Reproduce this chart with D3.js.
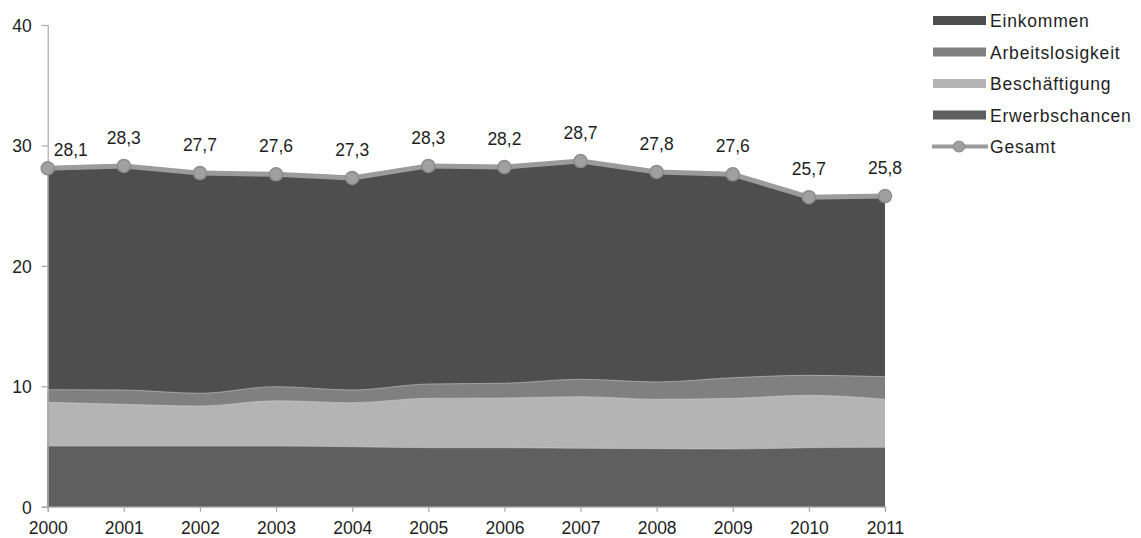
<!DOCTYPE html>
<html>
<head>
<meta charset="utf-8">
<script src="https://cdn.jsdelivr.net/npm/d3@7"></script>
<style>
  html, body { margin: 0; padding: 0; background: #fff; }
  svg { display: block; font-family: "Liberation Sans", Arial, sans-serif; }
</style>
</head>
<body>
<svg id="chart" width="1141" height="538"></svg>
<script>
// Jahre und Teilindikatoren (gestapelt), Gesamtwert als Linie
const years = [2000, 2001, 2002, 2003, 2004, 2005, 2006, 2007, 2008, 2009, 2010, 2011];
const erwerbschancen   = [5.04, 5.04, 5.04, 5.04, 4.98, 4.90, 4.90, 4.85, 4.82, 4.79, 4.90, 4.93];
const beschaeftigung   = [3.63, 3.46, 3.32, 3.76, 3.66, 4.10, 4.13, 4.29, 4.10, 4.21, 4.35, 3.99];
const arbeitslosigkeit = [1.05, 1.19, 1.06, 1.17, 1.05, 1.19, 1.22, 1.44, 1.44, 1.71, 1.66, 1.88];
const einkommen        = [18.38, 18.61, 18.28, 17.63, 17.61, 18.11, 17.95, 18.12, 17.44, 16.89, 14.79, 15.00];
const gesamt           = [28.1, 28.3, 27.7, 27.6, 27.3, 28.3, 28.2, 28.7, 27.8, 27.6, 25.7, 25.8];
const yTicks = [0, 10, 20, 30, 40];

const seriesNames = ["Erwerbschancen", "Beschäftigung", "Arbeitslosigkeit", "Einkommen"];
const seriesValues = [erwerbschancen, beschaeftigung, arbeitslosigkeit, einkommen];
const colors = {
  "Einkommen": "#4e4e4e",
  "Arbeitslosigkeit": "#808080",
  "Beschäftigung": "#b4b4b4",
  "Erwerbschancen": "#5f5f5f"
};
const legendOrder = ["Einkommen", "Arbeitslosigkeit", "Beschäftigung", "Erwerbschancen"];

const rows = years.map((y, i) => {
  const r = { year: y };
  seriesNames.forEach((n, k) => { r[n] = seriesValues[k][i]; });
  return r;
});

const svg = d3.select("#chart");
const x = d3.scaleLinear().domain([2000, 2011]).range([47.7, 885]);
const y = d3.scaleLinear().domain([0, 40]).range([506.7, 25]);
const fontSize = 17.5;

const stack = d3.stack().keys(seriesNames)(rows);

// Each layer is filled from the baseline up to its cumulative top,
// painted from the top layer down, so the boundaries stay seamless.
const smoothArea = d3.area()
  .x(d => x(d.data.year))
  .y0(y(0))
  .y1(d => y(d[1]))
  .curve(d3.curveMonotoneX);
const linearArea = d3.area()
  .x(d => x(d.data.year))
  .y0(y(0))
  .y1(d => y(d[1]))
  .curve(d3.curveLinear);
const boundary = d3.line()
  .x(d => x(d.data.year))
  .y(d => y(d[1]))
  .curve(d3.curveMonotoneX);

const layers = svg.append("g");
stack.slice().reverse().forEach(layer => {
  const isTop = layer.key === "Einkommen";
  layers.append("path")
    .attr("d", (isTop ? linearArea : smoothArea)(layer))
    .attr("fill", colors[layer.key]);
});
// thin light seams between the stacked layers
stack.slice(0, 3).forEach(layer => {
  layers.append("path")
    .attr("d", boundary(layer))
    .attr("fill", "none")
    .attr("stroke", "#d0d0d0")
    .attr("stroke-opacity", 0.55)
    .attr("stroke-width", 1);
});

// axes
const axisColor = "#a8a8a8";
const textColor = "#1e1e1e";
const yAxis = svg.append("g").attr("transform", `translate(${x(2000)},0)`)
  .call(d3.axisLeft(y).tickValues(yTicks).tickSize(6).tickPadding(10).tickFormat(d3.format("d")));
const xAxis = svg.append("g").attr("transform", `translate(0,${y(0)})`)
  .call(d3.axisBottom(x).tickValues(years).tickSize(5).tickPadding(6).tickFormat(d3.format("d")));
[yAxis, xAxis].forEach(a => {
  a.select(".domain").attr("stroke", axisColor).attr("stroke-width", 1.2);
  a.selectAll(".tick line").attr("stroke", axisColor).attr("stroke-width", 1.2);
  a.selectAll(".tick text")
    .attr("fill", textColor)
    .attr("font-size", fontSize)
    .attr("font-family", "Liberation Sans, Arial, sans-serif");
});
yAxis.selectAll(".tick text").attr("dy", "0.36em");
xAxis.selectAll(".tick text").attr("y", 27.5).attr("dy", 0);

// Gesamt line with markers
const line = d3.line().x((d, i) => x(years[i])).y(d => y(d));
svg.append("path")
  .attr("d", line(gesamt))
  .attr("fill", "none")
  .attr("stroke", "#9b9b9b")
  .attr("stroke-width", 5)
  .attr("stroke-linejoin", "round");
svg.append("g").selectAll("circle")
  .data(gesamt)
  .join("circle")
  .attr("cx", (d, i) => x(years[i]))
  .attr("cy", d => y(d))
  .attr("r", 6.5)
  .attr("fill", "#a0a0a0")
  .attr("stroke", "#8c8c8c")
  .attr("stroke-width", 1.5);

// value labels above the markers (the first one sits beside the axis)
const fmt = v => d3.format(".1f")(v).replace(".", ",");
svg.append("g").selectAll("text")
  .data(gesamt)
  .join("text")
  .attr("x", (d, i) => i === 0 ? x(years[i]) + 6 : x(years[i]))
  .attr("y", (d, i) => i === 0 ? y(d) - 12.5 : y(d) - 22)
  .attr("text-anchor", (d, i) => i === 0 ? "start" : "middle")
  .attr("font-size", fontSize)
  .attr("fill", textColor)
  .text(fmt);

// legend
const legend = svg.append("g");
const legendY = [20.5, 52, 83.5, 115];
legendOrder.forEach((name, i) => {
  legend.append("rect")
    .attr("x", 933).attr("y", legendY[i] - 4.5)
    .attr("width", 53).attr("height", 9)
    .attr("fill", colors[name]);
  legend.append("text")
    .attr("x", 990).attr("y", legendY[i] + 6.5)
    .attr("font-size", fontSize)
    .attr("letter-spacing", 0.8)
    .attr("fill", textColor)
    .text(name);
});
const gy = 146.5;
legend.append("line")
  .attr("x1", 932).attr("x2", 988).attr("y1", gy).attr("y2", gy)
  .attr("stroke", "#9b9b9b").attr("stroke-width", 4);
legend.append("circle")
  .attr("cx", 959).attr("cy", gy).attr("r", 5.5)
  .attr("fill", "#a0a0a0").attr("stroke", "#8c8c8c").attr("stroke-width", 1.2);
legend.append("text")
  .attr("x", 990).attr("y", gy + 6.5)
  .attr("font-size", fontSize)
  .attr("letter-spacing", 0.8)
  .attr("fill", textColor)
  .text("Gesamt");
</script>
</body>
</html>
